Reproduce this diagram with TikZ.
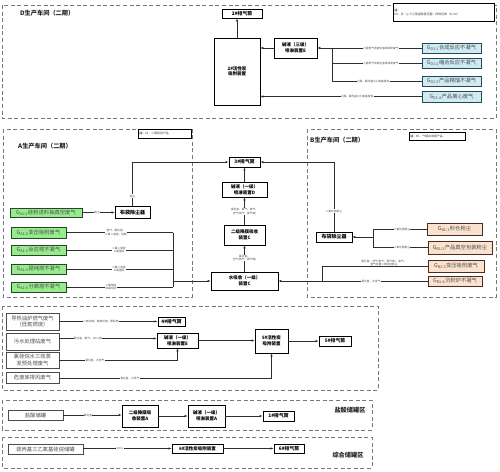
\documentclass[tikz,border=0pt]{standalone}
\usepackage{fontspec}
\setmainfont{Noto Sans CJK SC}
\usetikzlibrary{arrows.meta}
\definecolor{gfill}{RGB}{150,236,140}
\definecolor{gdraw}{RGB}{40,70,40}
\definecolor{bfill}{RGB}{208,234,242}
\definecolor{bdraw}{RGB}{30,75,90}
\definecolor{pfill}{RGB}{250,226,206}
\definecolor{pdraw}{RGB}{75,45,30}
\definecolor{conn}{RGB}{45,45,45}
\definecolor{regc}{RGB}{120,120,120}
\begin{document}
\begin{tikzpicture}[x=1pt,y=-1pt,
  sz/.style 2 args={minimum width=#1pt,minimum height=#2pt},
  box/.style={draw=black,line width=0.65pt,inner sep=0pt,align=center,fill=white,
    font=\fontsize{4.5}{5.6}\selectfont\bfseries},
  stack/.style={box,line width=0.9pt,font=\fontsize{4.8}{5.6}\selectfont\bfseries},
  src/.style={draw=black!70,line width=0.7pt,inner sep=0pt,align=center,fill=white,
    text=black!70,font=\fontsize{5.3}{6.3}\selectfont},
  gsrc/.style={src,fill=gfill,draw=gdraw},
  bsrc/.style={src,fill=bfill,draw=bdraw},
  psrc/.style={src,fill=pfill,draw=pdraw},
  lbl/.style={font=\fontsize{2.7}{3.3}\selectfont,fill=white,inner sep=0.3pt,
    text=black!70,align=center},
  note/.style={draw=black,line width=0.7pt,fill=white,inner sep=1pt,align=left,
    anchor=north west,font=\fontsize{2.9}{3.8}\selectfont,text=black!75},
  ttl/.style={font=\fontsize{6.2}{7}\selectfont\bfseries,inner sep=0pt,text=black!85},
  arr/.style={draw=conn,line width=0.6pt,-{Latex[length=3pt,width=2.4pt]}},
  ln/.style={draw=conn,line width=0.6pt},
  region/.style={draw=regc,line width=0.75pt,dash pattern=on 4pt off 2.6pt}
]
\useasboundingbox (0,0) rectangle (500,471);
\fill[white] (0,0) rectangle (500,471);

% ---------- regions ----------
\draw[region] (2,5) rectangle (496,118);
\draw[region] (3,129) rectangle (192,297);
\draw[region] (307,129) rectangle (496,297);
\draw[region] (2,306) rectangle (378,390);
\draw[region] (2,400) rectangle (372,430);
\draw[region] (2,437) rectangle (372,468);

% ---------- D section ----------
\node[ttl,anchor=west] (tD) at (20,13) {D生产车间（二期）};
\node[note,text width=99pt,minimum height=18pt] (nD) at (393,3)
  {\textbf{注：}\\DS：双（γ-三乙氧基硅基丙基）四硫化物（Si-69）};
\node[stack,sz={40}{9}] (st2) at (242,13.5) {2\#排气筒};
\node[box,sz={46}{67}] (ac2) at (237,71.5) {2\#活性炭\\吸附装置};
\node[box,sz={43}{20}] (sp3) at (295.5,48) {碱液（三级）\\喷淋装置E};
\node[bsrc,sz={59}{10}] (GD1) at (451.5,48) {G\textsubscript{D1-1}合成反应不凝气};
\node[bsrc,sz={59}{10}] (GD2) at (451.5,63) {G\textsubscript{D1-2}缩合反应不凝气};
\node[bsrc,sz={59}{10}] (GD3) at (451.5,81) {G\textsubscript{D1-3}产品精馏不凝气};
\node[bsrc,sz={59}{11}] (GD4) at (451.5,96.5) {G\textsubscript{D1-4}产品离心废气};
\coordinate (jD) at (332,48);
\draw[arr] (ac2.north) -- (ac2.north |- st2.south);
\draw[arr] (sp3.west) -- (sp3.west -| ac2.east);
\draw[arr] (GD1.west) -- (GD1.west -| sp3.east);
\draw[ln] (GD2.west) -- (GD2.west -| jD);
\draw[ln] (GD3.west) -- (GD3.west -| jD);
\draw[ln] (jD) -- (GD3.west -| jD);
\draw[arr] (GD4.west) -- (GD4.west -| ac2.east);
\node[lbl] (lD1) at (381,48) {乙醇蒸气及硫化氢等挥发废气};
\node[lbl] (lD2) at (381,63) {乙醇蒸气及硫化氢等挥发废气};
\node[lbl] (lD3) at (373,81) {乙醇、氯丙基三乙氧基硅烷};
\node[lbl] (lD4) at (357,96.5) {乙醇、氯丙基三乙氧基硅烷};

% ---------- A section ----------
\node[ttl,anchor=west] (tA) at (18,146) {A生产车间（二期）};
\node[note,text width=51pt,minimum height=9pt] (nA) at (138,129) {\textbf{注：}A1：二氯硅烷产品};
\node[gsrc,sz={72}{9}] (GA1) at (46,212.5) {G\textsubscript{A1-1}硅粉进料抽真空废气};
\node[box,sz={35}{12},font=\fontsize{5}{6}\selectfont\bfseries] (bagA) at (132.5,212.5) {布袋除尘器};
\node[gsrc,sz={55}{11}] (GA2) at (38.5,232.5) {G\textsubscript{A1-2}变压吸附废气};
\node[gsrc,sz={55}{10}] (GA3) at (38.5,250) {G\textsubscript{A1-3}反应塔不凝气};
\node[gsrc,sz={55}{10}] (GA4) at (38.5,269) {G\textsubscript{A1-4}提纯塔不凝气};
\node[gsrc,sz={55}{10}] (GA5) at (38.5,287) {G\textsubscript{A1-5}分离塔不凝气};

% ---------- middle chain ----------
\node[stack,sz={31}{10}] (st3) at (244.5,162) {3\#排气筒};
\node[box,sz={45}{15}] (spD) at (244.5,189.5) {碱液（一级）\\喷淋装置D};
\node[box,sz={41}{20}] (fmC) at (244.5,235) {二级降膜吸收\\装置C};
\node[box,sz={67}{18}] (wtC) at (244.5,281) {水吸收（一级）\\装置C};

\draw[arr] (GA1.east) -- (GA1.east -| bagA.west);
\node[lbl] (lA1) at (97,212.5) {粉尘};
\draw[arr] (bagA.north) -- (bagA.north |- st3.west) -- (st3.west);
\node[lbl] (lA0) at (132.5,196) {粉尘};
\coordinate (jA) at (173,281);
\draw[ln] (GA2.east) -- (GA2.east -| jA);
\draw[ln] (GA3.east) -- (GA3.east -| jA);
\draw[ln] (GA4.east) -- (GA4.east -| jA);
\draw[ln] (GA5.east) -- (GA5.east -| jA);
\draw[ln] (GA2.east -| jA) -- (GA5.east -| jA);
\draw[arr] (jA) -- (wtC.west);
\node[lbl] (lA2) at (116,232.5) {氢气、氯化氢、\\二氯二氢硅、硅粉};
\node[lbl] (lA3) at (119,250) {二氯二氢硅\\三氯氢硅};
\node[lbl] (lA4) at (119,269) {二氯二氢硅\\三氯氢硅};
\node[lbl] (lA5) at (111,287) {二氯氢硅\\四氯化硅};

\draw[arr] (wtC.north) -- (fmC.south);
\draw[arr] (fmC.north) -- (spD.south);
\draw[arr] (spD.north) -- (st3.south);
\node[lbl] (lM1) at (244.5,258) {氯化氢、\\空气(氮气、氯气等)};
\node[lbl] (lM2) at (244.5,211.5) {氯化氢、氯气、氢气、\\空气(氮气、氯气等)};

% ---------- B section ----------
\node[ttl,anchor=west] (tB) at (310,140) {B生产车间（二期）};
\node[note,text width=54pt,minimum height=8pt] (nB) at (409,132) {\textbf{注：}B1：气相白炭黑产品};
\node[box,sz={36}{10},font=\fontsize{5}{6}\selectfont\bfseries] (bagB) at (334,237) {布袋除尘器};
\node[psrc,sz={55}{12}] (GB1) at (454.5,229) {G\textsubscript{B1-1}料仓粉尘};
\node[psrc,sz={64}{13}] (GB2) at (460,247.5) {G\textsubscript{B1-2}产品真空包装粉尘};
\node[psrc,sz={56}{12}] (GB3) at (456,266) {G\textsubscript{B1-3}变压吸附废气};
\node[psrc,sz={54}{10}] (GB4) at (455,281) {G\textsubscript{B1-4}沉积炉不凝气};
\coordinate (jB) at (373,237);
\coordinate (jB2) at (322,281);
\draw[ln] (GB1.west) -- (GB1.west -| jB);
\draw[ln] (GB2.west) -- (GB2.west -| jB);
\draw[ln] (GB1.west -| jB) -- (GB2.west -| jB);
\draw[arr] (jB) -- (bagB.east);
\draw[arr] (bagB.north) -- (bagB.north |- st3.east) -- (st3.east);
\node[lbl] (lB0) at (334,211) {二氧化硅粉尘};
\draw[ln] (GB3.west) -- (GB3.west -| jB2) -- (jB2);
\draw[arr] (GB4.west) -- (GB4.west -| wtC.east);
\node[lbl] (lB1) at (402,229) {二氧化硅粉尘};
\node[lbl] (lB2) at (402,247.5) {二氧化硅粉尘};
\node[lbl] (lB3) at (384,263) {氯化氢、空气(氮气、氯气等)、氢气、\\氢气含量二氧化硅粉尘};
\node[lbl] (lB4) at (371,281) {氯化氢、水蒸气};

% ---------- lower middle section ----------
\node[src,sz={53}{17}] (S1) at (32.5,321.5) {导热油炉燃气废气\\（低氮燃烧）};
\node[stack,sz={27}{9}] (st4) at (171.5,321.5) {4\#排气筒};
\node[src,sz={53}{17}] (S2) at (32.5,341.5) {污水处理站废气};
\node[box,sz={41}{15}] (spE) at (177.5,340.5) {碱液（一级）\\喷淋装置E};
\node[src,sz={53}{16}] (S3) at (32.5,360) {氯硅烷水三效蒸\\发预处理废气};
\node[src,sz={53}{11}] (S4) at (32.5,377.5) {危废库排风废气};
\node[box,sz={33}{24}] (ac5) at (271.5,341) {5\#活性炭\\吸附装置};
\node[stack,sz={32}{10}] (st5) at (335,341) {5\#排气筒};
\draw[arr] (S1.east) -- (S1.east -| st4.west);
\node[lbl] (lS1) at (101,321.5) {二氧化硫、氮氧化物、颗粒物};
\draw[arr] (S2.east |- 0,338.5) -- (spE.west |- 0,338.5);
\node[lbl] (lS2) at (88,338.5) {氯化氢、氨气、VOCs等};
\draw[arr] (S3.east) -- (S3.east -| spE.south) -- (spE.south);
\node[lbl] (lS3) at (95,360) {氯化氢、水蒸气};
\draw[arr] (S4.east |- 0,378) -- (ac5.south |- 0,378) -- (ac5.south);
\node[lbl] (lS4) at (130,378) {氯化氢、水蒸气};
\draw[arr] (spE.east) -- (spE.east -| ac5.west);
\draw[arr] (ac5.east) -- (st5.west);

% ---------- hydrochloric acid tank area ----------
\node[src,sz={55}{10}] (T1) at (35.5,415) {盐酸储罐};
\node[box,sz={36}{22}] (fmA) at (140,416) {二级降膜吸\\收装置A};
\node[box,sz={37}{22}] (spA) at (206.5,416) {碱液（一级）\\喷淋装置A};
\node[stack,sz={31}{10}] (st1) at (278.5,416) {1\#排气筒};
\node[ttl] (tHC) at (350,410.5) {盐酸储罐区};
\draw[arr] (T1.east) -- (T1.east -| fmA.west);
\node[lbl] (lT1) at (88,415) {氯化氢};
\draw[arr] (fmA.east) -- (spA.west);
\draw[arr] (spA.east) -- (st1.west);

% ---------- integrated tank area ----------
\node[src,sz={75}{10}] (T2) at (45.5,449) {巯丙基三乙氧基硅烷储罐};
\node[box,sz={51}{9}] (ac6) at (197.5,448.5) {6\#活性炭吸附装置};
\node[stack,sz={30}{9}] (st6) at (289,448.5) {6\#排气筒};
\node[ttl] (tZH) at (348,455) {综合储罐区};
\draw[arr] (T2.east |- ac6.west) -- (ac6.west);
\node[lbl] (lT2) at (120,448.5) {VOCs};
\draw[arr] (ac6.east) -- (st6.west);
\end{tikzpicture}
\end{document}
